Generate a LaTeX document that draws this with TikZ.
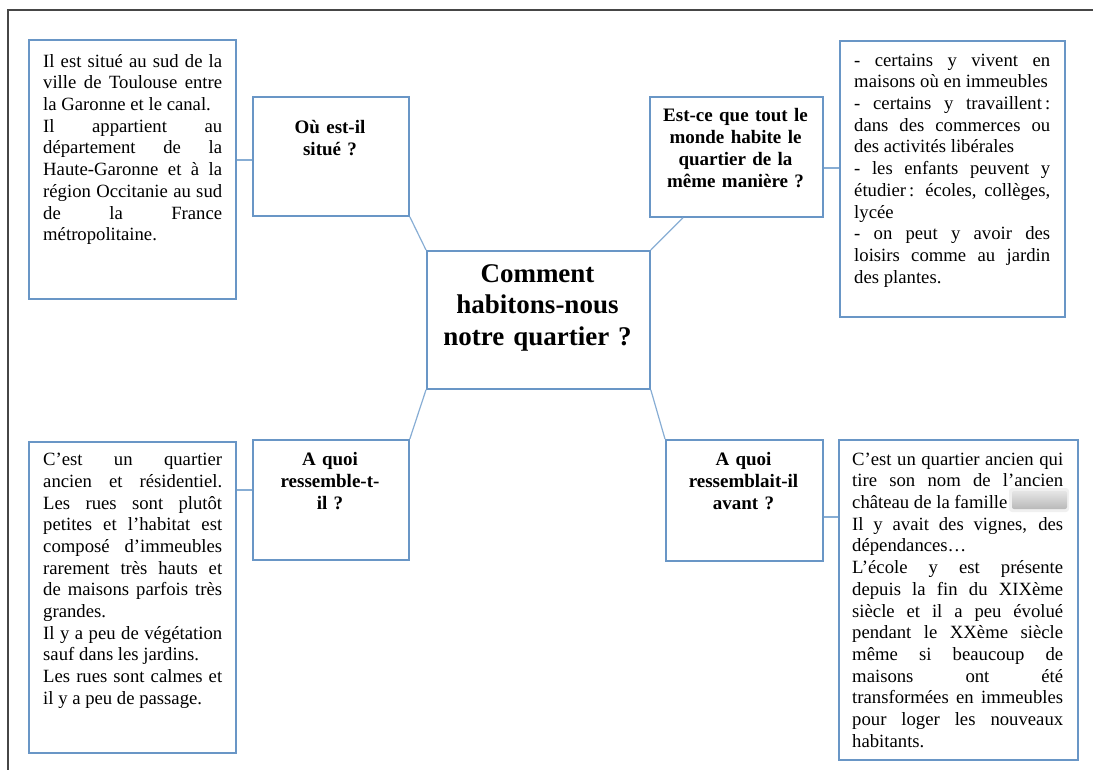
\documentclass[tikz,border=0pt]{standalone}
\usepackage{fontspec}
\setmainfont{Liberation Serif}
\usetikzlibrary{calc}
\definecolor{boxblue}{RGB}{105,150,198}
\definecolor{linkblue}{RGB}{135,173,212}
\definecolor{framegray}{RGB}{70,70,70}
\newcommand{\bodyfont}{\fontsize{18.7}{21.7}\selectfont\parindent=0pt\parskip=0pt\tolerance=10000\hbadness=10000}
\newcommand{\qfont}{\fontsize{19}{22}\selectfont\bfseries}
\newcommand{\cfont}{\fontsize{27}{31.5}\selectfont\bfseries}
\begin{document}
\begin{tikzpicture}[x=1pt,y=-1pt,
  box/.style={draw=boxblue,line width=1.8pt,inner sep=0pt,anchor=north west},
  link/.style={draw=linkblue,line width=1.2pt},
  body/.style={anchor=north west,inner sep=0pt,align=justify,font=\bodyfont},
  qtext/.style={anchor=north,inner sep=0pt,align=center,font=\qfont,text width=150pt},
  ctext/.style={anchor=north,inner sep=0pt,align=center,font=\cfont,text width=210pt},
]
\useasboundingbox (0,0) rectangle (1093,770);
% page frame
\draw[framegray,line width=2pt] (8,770) -- (8,10) -- (1093,10);

% boxes
\node[box,minimum width=207pt,minimum height=259pt] (t1) at (28,39) {};
\node[box,minimum width=156pt,minimum height=119pt] (q1) at (252,96) {};
\node[box,minimum width=173pt,minimum height=120pt] (q2) at (649,96) {};
\node[box,minimum width=225pt,minimum height=276pt] (t2) at (839,40) {};
\node[box,minimum width=223pt,minimum height=138pt] (c) at (426,250) {};
\node[box,minimum width=156pt,minimum height=120pt] (q3) at (252,439) {};
\node[box,minimum width=207pt,minimum height=311pt] (t3) at (28,441) {};
\node[box,minimum width=157pt,minimum height=121pt] (q4) at (665,439) {};
\node[box,minimum width=239pt,minimum height=320pt] (t4) at (838,439) {};

% connectors
\draw[link] (t1.east |- 0,160) -- (q1.west |- 0,160);
\draw[link] (q2.east |- 0,168) -- (t2.west |- 0,168);
\draw[link] (t3.east |- 0,490) -- (q3.west |- 0,490);
\draw[link] (q4.east |- 0,517) -- (t4.west |- 0,517);
\draw[link] (c.north west) -- (q1.south east);
\draw[link] (c.north east) -- ($(q2.south west)+(34,0)$);
\draw[link] (c.south west) -- (q3.north east);
\draw[link] (c.south east) -- (q4.north west);

% central text
\node[ctext] (ct) at (537.5,260) {\strut Comment\\habitons-nous\\notre quartier ?};

% question texts
\node[qtext,text width=140pt] (q1t) at (330,117.6) {\strut Où est-il\\situé ?};
\node[qtext] (q2t) at (735.5,105.6) {\strut Est-ce que tout le\\monde habite le\\quartier de la\\même manière ?};
\node[qtext,text width=140pt] (q3t) at (330,449.6) {\strut A quoi\\ressemble-t-\\il ?};
\node[qtext,text width=140pt] (q4t) at (743.5,449.6) {\strut A quoi\\ressemblait-il\\avant ?};

% body texts
\node[body,text width=179pt] (t1t) at (43,51.8) {\strut Il est situé au sud de la\linebreak
ville de Toulouse entre\linebreak
la Garonne et le canal.\par
Il appartient au\linebreak
département de la\linebreak
Haute-Garonne et à la\linebreak
région Occitanie au sud\linebreak
de la France\linebreak
métropolitaine.};

\node[body,text width=196pt] (t2t) at (854,50.8) {\strut - certains y vivent en\linebreak
maisons où en immeubles\par
- certains y travaillent\kern3pt:\linebreak
dans des commerces ou\linebreak
des activités libérales\par
- les enfants peuvent y\linebreak
étudier\kern3pt: écoles, collèges,\linebreak
lycée\par
- on peut y avoir des\linebreak
loisirs comme au jardin\linebreak
des plantes.};

\node[body,text width=179pt] (t3t) at (43,450.3) {\strut C’est un quartier\linebreak
ancien et résidentiel.\linebreak
Les rues sont plutôt\linebreak
petites et l’habitat est\linebreak
composé d’immeubles\linebreak
rarement très hauts et\linebreak
de maisons parfois très\linebreak
grandes.\par
Il y a peu de végétation\linebreak
sauf dans les jardins.\par
Les rues sont calmes et\linebreak
il y a peu de passage.};

\node[body,text width=211pt] (t4t) at (852,449.8) {\strut C’est un quartier ancien qui\linebreak
tire son nom de l’ancien\linebreak
château de la famille\par
Il y avait des vignes, des\linebreak
dépendances…\par
L’école y est présente\linebreak
depuis la fin du XIXème\linebreak
siècle et il a peu évolué\linebreak
pendant le XXème siècle\linebreak
même si beaucoup de\linebreak
maisons ont été\linebreak
transformées en immeubles\linebreak
pour loger les nouveaux\linebreak
habitants.};

% blurred redaction
\fill[gray!12,rounded corners=3pt] (1009,488) rectangle (1069,512);
\shade[top color=gray!20,bottom color=gray!55,rounded corners=2pt] (1012,491) rectangle (1067,509);
\end{tikzpicture}
\end{document}
